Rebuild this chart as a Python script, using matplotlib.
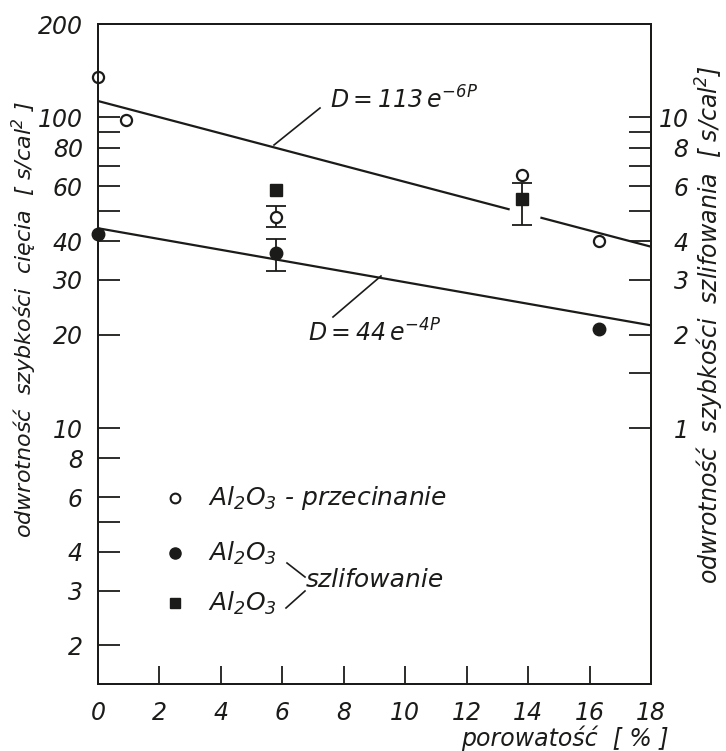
import numpy as np
import matplotlib
matplotlib.use('Agg')
import matplotlib.pyplot as plt
from matplotlib.ticker import FixedLocator, FixedFormatter, NullLocator

# porowatosc [%] vs odwrotnosc szybkosci
x_ciecie = [0, 0.9, 5.8, 13.8, 16.3]
y_ciecie = [135, 98.5, 48, 65.5, 40]
x_szl_kolo = [0, 5.8, 16.3]
y_szl_kolo = [42.2, 36.5, 20.9]
x_szl_kw = [5.8, 13.8]
y_szl_kw = [58.5, 54.8]

# rozrzut (min, max) dla wybranych punktow
err_ciecie = (5.8, 48, 44.5, 52.0)
err_kolo = (5.8, 36.5, 32.1, 40.7)
err_kw = (13.8, 54.8, 45.2, 61.7)

# D = A * exp(-k P), P jako ulamek
fit_gora = (113, 6)
fit_dol = (44, 4)

left_ticks = [2, 3, 4, 5, 6, 8, 10, 20, 30, 40, 50, 60, 70, 80, 90, 100, 200]
left_labels = ['2', '3', '4', '', '6', '8', '10', '20', '30', '40', '', '60', '', '80', '', '100', '200']
right_ticks = [1, 1.5, 2, 3, 4, 5, 6, 7, 8, 9, 10]
right_labels = ['1', '', '2', '3', '4', '', '6', '', '8', '', '10']
x_ticks = list(range(0, 19, 2))

ink = '#1b1c19'
plt.rcParams['font.family'] = 'DejaVu Sans'
plt.rcParams['font.style'] = 'italic'
plt.rcParams['mathtext.fontset'] = 'custom'
plt.rcParams['mathtext.rm'] = 'DejaVu Sans:italic'
plt.rcParams['mathtext.it'] = 'DejaVu Sans:italic'
plt.rcParams['text.color'] = ink

W, H = 726, 751
fig = plt.figure(figsize=(W / 100, H / 100), dpi=100)
L, R, T, B = 98, 651, 24, 684
ax = fig.add_axes([L / W, 1 - B / H, (R - L) / W, (B - T) / H])

def axp(px, py):
    return ((px - L) / (R - L), (B - py) / (B - T))

ax.set_xlim(0, 18)
ax.set_yscale('log')
ax.set_ylim(1.5, 200)

# proste regresji
P = np.linspace(0, 18, 100)
A, k = fit_gora
for lo, hi in [(0, 13.4), (14.4, 18)]:
    p = P[(P >= lo) & (P <= hi)]
    p = np.concatenate([[lo], p, [hi]])
    ax.plot(p, A * np.exp(-k * p / 100), color=ink, lw=1.6, solid_capstyle='butt')
A, k = fit_dol
ax.plot(P, A * np.exp(-k * P / 100), color=ink, lw=1.6)

# slupki rozrzutu
for ex, ey, lo, hi in [err_ciecie, err_kolo, err_kw]:
    ax.errorbar([ex], [ey], yerr=[[ey - lo], [hi - ey]], fmt='none',
                ecolor=ink, elinewidth=1.3, capsize=7, capthick=1.3)

ax.plot(x_ciecie, y_ciecie, 'o', ms=8, mfc='white', mec=ink, mew=1.6, clip_on=False, zorder=5)
ax.plot(x_szl_kolo, y_szl_kolo, 'o', ms=9, mfc=ink, mec=ink, clip_on=False, zorder=5)
ax.plot(x_szl_kw, y_szl_kw, 's', ms=8, mfc=ink, mec=ink, clip_on=False, zorder=5)

# osie
for s in ax.spines.values():
    s.set_linewidth(1.4)
    s.set_color(ink)
ax.yaxis.set_major_locator(FixedLocator(left_ticks))
ax.yaxis.set_major_formatter(FixedFormatter(left_labels))
ax.yaxis.set_minor_locator(NullLocator())
ax.set_xticks(x_ticks)
ax.set_xticklabels([str(v) for v in x_ticks])
ax.tick_params(axis='y', which='both', direction='in', left=True, right=False,
               length=16, width=1.3, pad=11, labelsize=17, colors=ink)
ax.tick_params(axis='x', direction='in', top=False, length=13, width=1.3,
               pad=12, labelsize=17, colors=ink)

ax2 = ax.twinx()
ax2.set_yscale('log')
ax2.set_ylim(0.15, 20)
ax2.yaxis.set_major_locator(FixedLocator(right_ticks))
ax2.yaxis.set_major_formatter(FixedFormatter(right_labels))
ax2.yaxis.set_minor_locator(NullLocator())
ax2.tick_params(axis='y', which='both', direction='in', length=16, width=1.3,
                pad=27, labelsize=17, colors=ink)
for t in ax2.get_yticklabels():
    t.set_horizontalalignment('right')
for s in ax2.spines.values():
    s.set_linewidth(1.4)
    s.set_color(ink)

# opisy prostych
ax.text(*axp(330, 100), r'$D = 113\,e^{-6P}$', transform=ax.transAxes,
        fontsize=17, ha='left', va='center')
ax.plot(*zip(axp(274, 145), axp(320, 108)), transform=ax.transAxes, color=ink, lw=1.2)
ax.text(*axp(308, 333), r'$D = 44\,e^{-4P}$', transform=ax.transAxes,
        fontsize=17, ha='left', va='center')
ax.plot(*zip(axp(333, 317), axp(381, 276)), transform=ax.transAxes, color=ink, lw=1.2)

# legenda
mx, tx = 175, 208
rows = [498, 553, 603]
ax.plot(*axp(mx, rows[0]), 'o', ms=7, mfc='white', mec=ink, mew=1.5, transform=ax.transAxes)
ax.plot(*axp(mx, rows[1]), 'o', ms=8, mfc=ink, mec=ink, transform=ax.transAxes)
ax.plot(*axp(mx, rows[2]), 's', ms=7, mfc=ink, mec=ink, transform=ax.transAxes)
ax.text(*axp(tx, rows[0]), r'$Al_2O_3$ - przecinanie', transform=ax.transAxes,
        fontsize=18, ha='left', va='center')
ax.text(*axp(tx, rows[1]), r'$Al_2O_3$', transform=ax.transAxes,
        fontsize=18, ha='left', va='center')
ax.text(*axp(tx, rows[2]), r'$Al_2O_3$', transform=ax.transAxes,
        fontsize=18, ha='left', va='center')
ax.plot(*zip(axp(287, 563), axp(305, 577)), transform=ax.transAxes, color=ink, lw=1.2)
ax.plot(*zip(axp(286, 608), axp(305, 591)), transform=ax.transAxes, color=ink, lw=1.2)
ax.text(*axp(306, 580), 'szlifowanie', transform=ax.transAxes,
        fontsize=18, ha='left', va='center')

# podpisy osi
fig.text(24 / W, 1 - 320 / H, 'odwrotność  szybkości  cięcia  [ s/cal$^2$ ]',
         rotation=90, ha='center', va='center', fontsize=16)
fig.text(710 / W, 1 - 325 / H, 'odwrotność  szybkości  szlifowania  [ s/cal$^2$]',
         rotation=90, ha='center', va='center', fontsize=17)
fig.text(565 / W, 1 - 738 / H, 'porowatość  [ % ]', ha='center', va='center', fontsize=17)

fig.savefig('out.png', dpi=100, facecolor='white')
